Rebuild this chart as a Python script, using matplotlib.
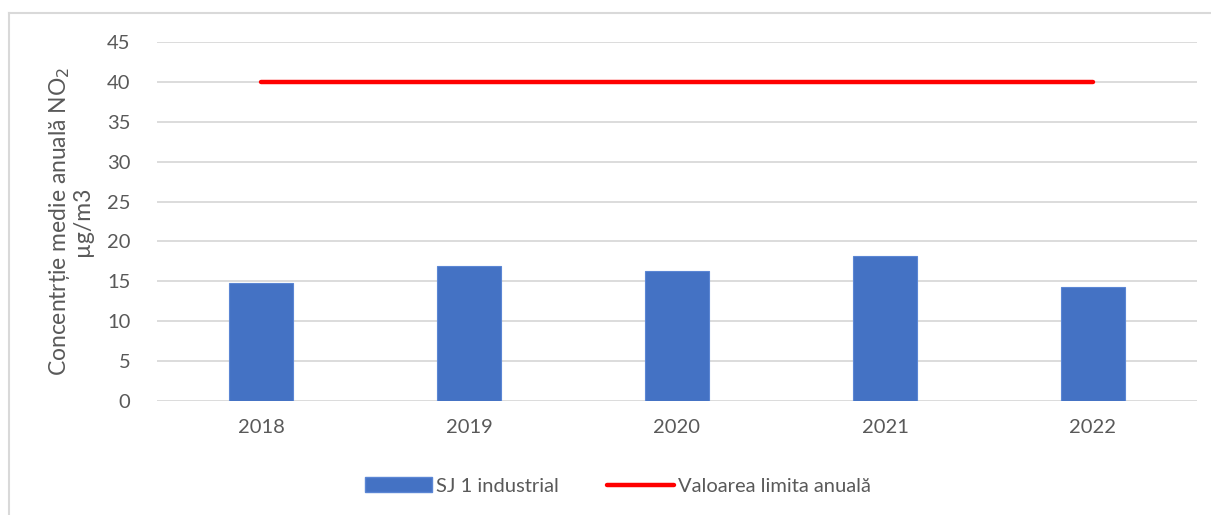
import matplotlib.pyplot as plt
from matplotlib.lines import Line2D
from matplotlib.patches import Patch

years = ['2018', '2019', '2020', '2021', '2022']
sj1_industrial = [14.75, 16.9, 16.3, 18.2, 14.25]
limit_value = [40, 40, 40, 40, 40]
yticks = [0, 5, 10, 15, 20, 25, 30, 35, 40, 45]

plt.rcParams['font.family'] = ['Lato', 'DejaVu Sans']
txt = '#595959'
grid = '#d9d9d9'

fig = plt.figure(figsize=(12.11, 5.15), dpi=100)
ax = fig.add_axes([157 / 1211, 1 - 401 / 515, (1197 - 157) / 1211, (401 - 42) / 515])

x = range(len(years))
ax.bar(x, sj1_industrial, width=0.31, color='#4472c4', edgecolor='#5b86d4', linewidth=0.8, zorder=2)
ax.plot(x, limit_value, color='#ff0000', linewidth=3.2, solid_capstyle='round', zorder=3)

ax.set_xlim(-0.5, 4.5)
ax.set_ylim(0, 45)
ax.set_yticks(yticks)
ax.set_xticks(list(x))
ax.set_xticklabels(years)
ax.grid(axis='y', color=grid, linewidth=1.3, zorder=0)
ax.set_axisbelow(True)
for s in ax.spines.values():
    s.set_visible(False)
ax.tick_params(length=0, colors=txt, labelsize=14.5)
ax.tick_params(axis='y', pad=19)
ax.tick_params(axis='x', pad=13)

ax.set_ylabel('Concentrție medie anuală NO$_2$\nµg/m3', color=txt, fontsize=16.5, labelpad=10, linespacing=1.0)

handles = [Patch(facecolor='#4472c4', edgecolor='#5b86d4'),
           Line2D([], [], color='#ff0000', linewidth=3.2, solid_capstyle='round')]
fig.legend(handles, ['SJ 1 industrial', 'Valoarea limita anuală'], loc='center',
           bbox_to_anchor=(618 / 1211, 1 - 486 / 515), ncol=2, frameon=False,
           fontsize=14.5, labelcolor=txt, handlelength=3.3, handletextpad=0.2, columnspacing=2.4)

# outer chart border (left and top visible)
fig.add_artist(Line2D([8.5 / 1211, 8.5 / 1211], [0, 1 - 13 / 515], color='#d9d9d9', linewidth=1.5, transform=fig.transFigure))
fig.add_artist(Line2D([8.5 / 1211, 1], [1 - 13 / 515, 1 - 13 / 515], color='#d9d9d9', linewidth=1.5, transform=fig.transFigure))

fig.savefig('out.png', dpi=100)
